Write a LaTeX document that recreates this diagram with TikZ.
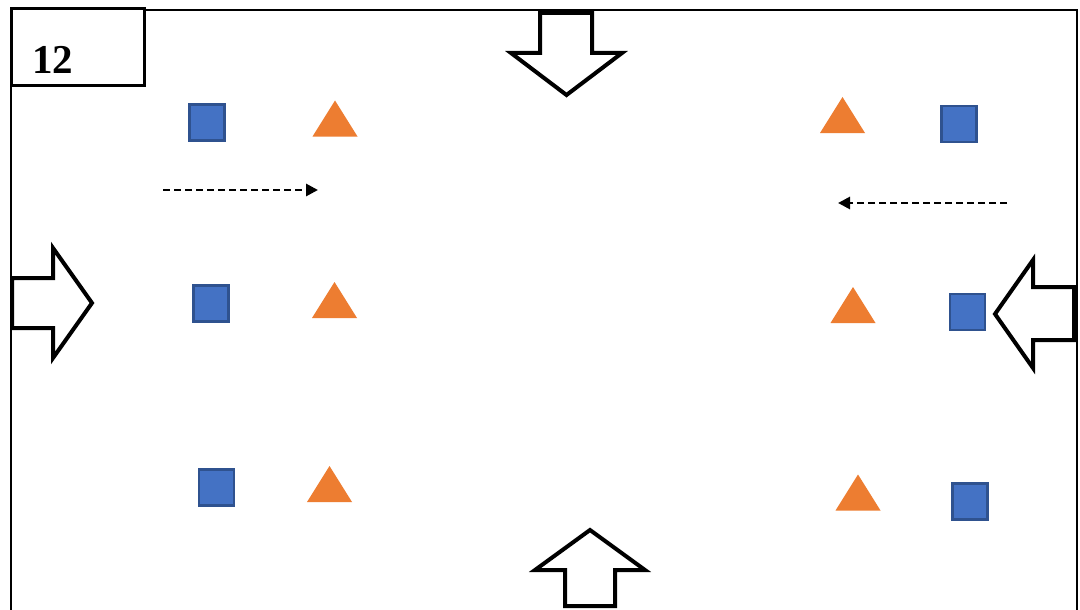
\documentclass[tikz,border=0pt]{standalone}
\usepackage{fontspec}
\setmainfont{Liberation Serif}
\usetikzlibrary{arrows.meta}
\definecolor{sqfill}{HTML}{4472C4}
\definecolor{sqedge}{HTML}{2F528F}
\definecolor{trifill}{HTML}{ED7D31}
\begin{document}
\begin{tikzpicture}[x=1pt,y=-1pt,
  sq/.style={draw=sqedge,fill=sqfill,line width=2.4pt,minimum width=35pt,minimum height=36pt,inner sep=0pt,outer sep=0pt},
  blockarrow/.style={draw=black,fill=white,line width=4pt,line join=miter},
  dasharrow/.style={line width=2.8pt,dash pattern=on 7pt off 4pt,-{Triangle[length=12pt,width=12pt]}},
  frame/.style={draw=black,line width=2.8pt},
  tri/.pic={\fill[trifill] (0,-18) -- (22.5,18) -- (-22.5,18) -- cycle;}
]
\useasboundingbox (0,0) rectangle (1080,610);
\clip (0,0) rectangle (1080,610);
\fill[white] (0,0) rectangle (1080,610);
% main frame
\draw[frame] (11,640) -- (11,10) -- (1077,10) -- (1077,640);
% label box
\node[frame,fill=white,minimum width=133pt,minimum height=77pt,inner sep=0pt,anchor=north west] (label) at (10,7) {};
\node[anchor=base west,font=\fontsize{41}{41}\selectfont\bfseries,inner sep=0pt] (num) at (32,74) {12};
% block arrows
\draw[blockarrow] (540,13) -- (592,13) -- (592,53) -- (622,53) -- (566.5,95) -- (511,53) -- (540,53) -- cycle;
\draw[blockarrow] (12,278) -- (53,278) -- (53,248) -- (92,303) -- (53,358) -- (53,328) -- (12,328) -- cycle;
\draw[blockarrow] (995,314) -- (1033,260) -- (1033,287) -- (1074,287) -- (1074,340) -- (1033,340) -- (1033,368) -- cycle;
\draw[blockarrow] (590,530) -- (645,570) -- (615,570) -- (615,606) -- (565,606) -- (565,570) -- (535,570) -- cycle;
% squares
\node[sq] (s1) at (207,122.5) {};
\node[sq] (s2) at (211,303.5) {};
\node[sq] (s3) at (216.5,487.5) {};
\node[sq] (s4) at (959,124) {};
\node[sq] (s5) at (967.5,312) {};
\node[sq] (s6) at (970,501.5) {};
% triangles
\pic at (335,118.5) {tri};
\pic at (334.5,300) {tri};
\pic at (329.5,484) {tri};
\pic at (842.5,115) {tri};
\pic at (853,305) {tri};
\pic at (858,492.5) {tri};
% dashed arrows
\coordinate (d1s) at (163,190);
\coordinate (d1e) at (318,190);
\coordinate (d2s) at (1007,203);
\coordinate (d2e) at (838,203);
\draw[dasharrow] (d1s) -- (d1e);
\draw[dasharrow] (d2s) -- (d2e);
\end{tikzpicture}
\end{document}
